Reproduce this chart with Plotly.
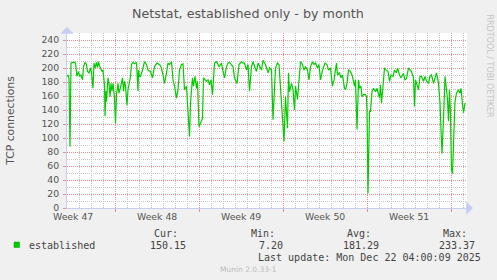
import pandas as pd
import plotly.graph_objects as go

# ---- data ----
start = "2025-11-19 00:00"
hours = [0, 2, 4, 6, 8, 11, 15, 17, 20, 23, 25, 28, 31, 33, 36, 39, 41, 44, 47, 49, 52, 54, 56, 59, 61, 63,
         65, 67, 70, 72, 75, 76, 78, 79, 82, 84, 86, 88, 90, 92, 95, 97, 99, 102, 104, 106, 109, 111, 113,
         115, 117, 120, 122, 124, 127, 129, 132, 135, 137, 139, 142, 143, 145, 147, 151, 153, 155, 159, 162,
         167, 171, 175, 180, 185, 189, 192, 195, 199, 202, 205, 209, 212, 215, 219, 222, 225, 229, 232, 235,
         239, 242, 245, 247, 251, 253, 256, 259, 261, 264, 268, 271, 273, 279, 282, 285, 288, 291, 295, 299,
         304, 309, 312, 315, 319, 322, 325, 329, 332, 335, 340, 344, 349, 352, 355, 359, 362, 365, 369, 372,
         375, 379, 382, 385, 389, 392, 397, 402, 405, 409, 412, 417, 421, 424, 427, 431, 434, 437, 441, 443,
         445, 449, 452, 455, 457, 461, 464, 467, 471, 474, 477, 481, 484, 487, 491, 494, 497, 501, 504, 507,
         511, 516, 520, 523, 527, 531, 534, 537, 539, 541, 545, 548, 551, 555, 557, 560, 563, 567, 570, 573,
         575, 577, 580, 583, 585, 588, 590, 593, 597, 599, 600, 602, 605, 607, 610, 613, 617, 620, 623, 625,
         627, 629, 632, 635, 639, 642, 645, 648, 652, 655, 659, 661, 665, 668, 671, 673, 676, 679, 683, 686,
         689, 693, 695, 697, 700, 703, 706, 709, 713, 716, 719, 723, 726, 729, 733, 736, 739, 743, 746, 748,
         750, 753, 756, 759, 761, 763, 765, 767, 769, 771, 774, 776, 779, 783, 786, 788, 791, 793, 796]
established = [188, 190, 185, 88, 207, 208, 208, 207, 188, 195, 188, 190, 183, 202, 208, 205, 195, 193, 200, 193,
               171, 207, 200, 208, 201, 209, 203, 200, 195, 197, 176, 131, 167, 152, 186, 178, 159, 178, 167, 178,
               157, 121, 162, 178, 164, 169, 183, 186, 167, 181, 174, 147, 169, 176, 188, 205, 208, 206, 207, 208,
               167, 197, 188, 188, 197, 202, 209, 205, 197, 195, 186, 202, 207, 205, 200, 190, 178, 193, 207, 205,
               209, 183, 174, 157, 169, 197, 205, 206, 169, 174, 145, 102, 150, 186, 174, 188, 171, 181, 116, 124,
               128, 186, 181, 183, 176, 183, 162, 207, 209, 202, 207, 195, 186, 202, 207, 208, 205, 202, 186, 178,
               205, 209, 207, 207, 197, 205, 167, 202, 209, 202, 195, 207, 202, 197, 211, 205, 193, 200, 197, 126,
               200, 207, 205, 176, 126, 95, 159, 114, 193, 166, 178, 169, 140, 174, 155, 178, 209, 205, 197, 202,
               197, 183, 202, 209, 205, 207, 200, 205, 183, 197, 207, 205, 197, 200, 174, 183, 200, 207, 190, 193,
               186, 190, 171, 169, 178, 197, 195, 190, 181, 174, 183, 112, 183, 171, 174, 159, 162, 162, 159, 138,
               21, 138, 138, 166, 171, 166, 171, 164, 157, 176, 150, 174, 200, 197, 195, 181, 190, 188, 197, 193,
               200, 190, 186, 190, 192, 183, 185, 200, 197, 195, 186, 145, 183, 174, 169, 188, 188, 181, 188, 181,
               178, 188, 190, 178, 186, 193, 178, 150, 112, 78, 126, 188, 169, 155, 124, 169, 131, 55, 49, 131,
               152, 164, 169, 164, 171, 148, 136, 150]
range_hours = [0, 800]
week_starts = ["2025-11-23", "2025-11-30", "2025-12-07", "2025-12-14", "2025-12-21"]
week_mids = ["2025-11-19 12:00", "2025-11-26 12:00", "2025-12-03 12:00", "2025-12-10 12:00", "2025-12-17 12:00"]
week_labels = ["Week 47", "Week 48", "Week 49", "Week 50", "Week 51"]
y_ticks = list(range(0, 241, 20))
y_range = [0, 250]
stat_names = ["Cur:", "Min:", "Avg:", "Max:"]
stat_values = ["150.15", "7.20", "181.29", "233.37"]
series_name = "established"
last_update = "Last update: Mon Dec 22 04:00:09 2025"

t0 = pd.Timestamp(start)
times = t0 + pd.to_timedelta(hours, unit="h")
xr = [t0 + pd.Timedelta(hours=h) for h in range_hours]

W, H = 497, 280
L, R, T, B = 67, 30, 33, 72
PW, PH = W - L - R, H - T - B


def px(x):
    return (x - L) / PW


def py(y):
    return (H - B - y) / PH


GREEN = "#00CC00"
AXIS = "#C8CCF4"
MGRID = "#E89090"
GRID = "#C4C4C4"
TXT = "#555555"
FONT = "DejaVu Sans"
MONO = "DejaVu Sans Mono"

fig = go.Figure()
fig.add_trace(go.Scatter(x=times, y=established, mode="lines",
                         line=dict(color=GREEN, width=1.2), showlegend=False, hoverinfo="skip"))

fig.update_layout(
    width=W, height=H, margin=dict(l=L, r=R, t=T, b=B, autoexpand=False),
    paper_bgcolor="#F0F0F0", plot_bgcolor="#FFFFFF", showlegend=False,
    font=dict(family=FONT, color=TXT, size=9),
    xaxis=dict(range=xr, type="date", tickmode="array", tickvals=week_starts, showticklabels=False,
               showgrid=True, gridcolor=MGRID, griddash="1px,1px", gridwidth=1,
               ticks="outside", ticklen=3, tickcolor=MGRID,
               minor=dict(tickmode="linear", dtick=86400000, tick0="2025-11-19", showgrid=True,
                          gridcolor=GRID, griddash="1px,1px", gridwidth=1, ticks=""),
               showline=True, linecolor=AXIS, linewidth=1, zeroline=False, fixedrange=True),
    yaxis=dict(range=y_range, tickmode="array", tickvals=y_ticks, showgrid=True, gridcolor=MGRID,
               griddash="1px,1px", gridwidth=1,
               ticks="outside", ticklen=3, tickcolor=MGRID, ticklabelstandoff=2,
               minor=dict(tickmode="linear", dtick=10, tick0=0, showgrid=True, gridcolor=GRID,
                          griddash="1px,1px", gridwidth=1, ticks=""),
               showline=True, linecolor=AXIS, linewidth=1, zeroline=False,
               tickfont=dict(family=FONT, size=9.3, color=TXT),
               title=dict(text="TCP connections", font=dict(family=FONT, size=10.8, color=TXT),
                          standoff=24)),
)

ann = []
for wm, wl in zip(week_mids, week_labels):
    ann.append(dict(text=wl, x=wm, y=py(216.5), xref="x", yref="paper", showarrow=False,
                    font=dict(family=FONT, size=9.3, color=TXT), xanchor="center", yanchor="middle"))
ann.append(dict(text="Netstat, established only - by month", x=px(248), y=py(13.5), xref="paper", yref="paper",
                showarrow=False, font=dict(family=FONT, size=12.7, color=TXT),
                xanchor="center", yanchor="middle"))
ann.append(dict(text="RRDTOOL / TOBI OETIKER", x=px(489), y=py(12), xref="paper", yref="paper",
                showarrow=False, textangle=90, font=dict(family=FONT, size=8, color="#C4C4C4"),
                xanchor="center", yanchor="top"))
ann.append(dict(text=series_name, x=px(27), y=py(245), xref="paper", yref="paper", showarrow=False,
                font=dict(family=MONO, size=10, color="#444444"), xanchor="left", yanchor="middle"))
stat_right = [180, 277, 373, 469]
val_right = [188, 285, 381, 477]
for nm, vl, sr, vr in zip(stat_names, stat_values, stat_right, val_right):
    ann.append(dict(text=nm, x=px(sr), y=py(233.5), xref="paper", yref="paper", showarrow=False,
                    font=dict(family=MONO, size=10, color="#444444"), xanchor="right", yanchor="middle"))
    ann.append(dict(text=vl, x=px(vr), y=py(245), xref="paper", yref="paper", showarrow=False,
                    font=dict(family=MONO, size=10, color="#444444"), xanchor="right", yanchor="middle"))
ann.append(dict(text=last_update, x=px(483), y=py(257), xref="paper", yref="paper", showarrow=False,
                font=dict(family=MONO, size=10, color="#444444"), xanchor="right", yanchor="middle"))
ann.append(dict(text="Munin 2.0.33-1", x=px(248.5), y=py(269.5), xref="paper", yref="paper", showarrow=False,
                font=dict(family=FONT, size=7.5, color="#BBBBBB"), xanchor="center", yanchor="middle"))
# axis arrows
ann.append(dict(x=px(67), y=py(27), ax=0, ay=8, xref="paper", yref="paper", axref="pixel", ayref="pixel",
                showarrow=True, arrowhead=1, arrowsize=1.5, arrowwidth=1.5, arrowcolor=AXIS, text=""))
ann.append(dict(x=px(473), y=py(208), ax=-8, ay=0, xref="paper", yref="paper", axref="pixel", ayref="pixel",
                showarrow=True, arrowhead=1, arrowsize=1.5, arrowwidth=1.5, arrowcolor=AXIS, text=""))
fig.update_layout(annotations=ann)

fig.add_shape(type="rect", xref="paper", yref="paper", x0=px(14), x1=px(19.5), y0=py(247.5), y1=py(242),
              fillcolor=GREEN, line=dict(color="#00AA00", width=0.5))

fig.write_html("out.html", config={"displayModeBar": False})
